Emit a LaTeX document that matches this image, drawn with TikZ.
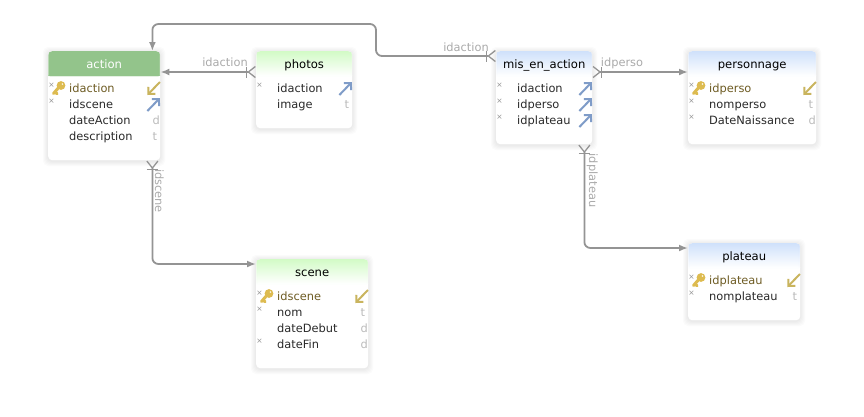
\documentclass[tikz,border=0pt]{standalone}
\usepackage{fontspec}
\setmainfont{DejaVu Sans}
\usetikzlibrary{arrows.meta,calc}

\definecolor{linkgray}{HTML}{949494}
\definecolor{labelgray}{HTML}{AAAAAA}
\definecolor{typegray}{HTML}{BBBBBB}
\definecolor{fieldtext}{HTML}{2A2A2A}
\definecolor{keytext}{HTML}{6E5C24}
\definecolor{keygold}{HTML}{DDBB50}
\definecolor{fkgold}{HTML}{C9B45E}
\definecolor{fkblue}{HTML}{7F9CC8}
\definecolor{greensolid}{HTML}{93C48B}
\definecolor{greenhead}{HTML}{D2FBC6}
\definecolor{bluehead}{HTML}{CFE1FB}

\tikzset{
	fieldlabel/.style={inner sep=0pt, anchor=base west, text=fieldtext, font=\fontsize{11.4}{14}\selectfont},
	typelabel/.style={inner sep=0pt, anchor=base west, text=typegray, font=\fontsize{11.4}{14}\selectfont},
	nullmark/.style={inner sep=0pt, text=linkgray, font=\fontsize{7.5}{8}\selectfont},
	linklabel/.style={inner sep=0pt, anchor=base, text=labelgray, font=\fontsize{11.4}{14}\selectfont},
	fklink/.style={draw=linkgray, line width=1.8pt, rounded corners=6pt,
		{Straight Barb[reversed,length=7pt,width=11pt,line width=1.3pt]Bar[width=11pt,line width=1.3pt,sep=0pt]}-{Latex[length=9pt,width=7pt]}},
	fkicon/.style={line width=2pt, -{Straight Barb[length=5pt,width=10pt,line width=2pt]}}
}

% tableau: nom, x, y, largeur, hauteur, titre, couleurs de l'entete, couleur du titre
\newcommand{\dbtable}[9]{
	\foreach \s in {5,4,3,2,1}
		\fill[black, opacity=0.014, rounded corners=5pt] (#2-\s,#3-\s+1) rectangle (#2+#4+\s,#3+#5+\s+1);
	\node[anchor=north west, fill=white, inner sep=0pt, rounded corners=4pt, minimum width=#4pt, minimum height=#5pt,
		path picture={
			\foreach \k in {0,...,24} {
				\pgfmathtruncatemacro{\mixval}{100-4*\k}
				\fill[#7!\mixval!#8] ($(path picture bounding box.north west)+(-2,{\k==0 ? -2 : \k})$) rectangle ++(#4+4,{\k==0 ? 4 : (\k<24 ? 2 : 1)});
			}
		}]
		(#1) at (#2,#3) {};
	\node[inner sep=0pt, anchor=base, text=#9, font=\fontsize{11.6}{14}\selectfont] (#1 title) at ($(#1.north)+(0,17.5)$) {#6};
}
% ligne de champ: tableau, rang, texte, type
\newcommand{\dbfield}[4]{
	\node[fieldlabel] (#1 f#2) at ($(#1.north west)+(21,{41.5+16*#2})$) {#3};
	\node[typelabel] (#1 t#2) at ($(#1.north east)+(-8,{41.5+16*#2})$) {#4};
}
\newcommand{\dbnull}[2]{
	\node[nullmark] (#1 n#2) at ($(#1.north west)+(3.5,{34.7+16*#2})$) {×};
}
% cle primaire
\newcommand{\pkicon}[1]{
	\begin{scope}[shift={($(#1.north west)+(0,37)$)}]
		\draw[keygold, line width=3pt, line cap=round] (12,-2) -- (5.5,5.5) (7,3.8) -- (9,5.8);
		\fill[keygold, even odd rule] (13,-2.5) circle (4.4) (14.4,-4) circle (1.1);
	\end{scope}
	\draw[fkicon, fkgold] ($(#1.north east)+(-0.5,31)$) -- ($(#1.north east)+(-13,44)$);
}
% cle etrangere
\newcommand{\fkicon}[2]{
	\draw[fkicon, fkblue] ($(#1.north east)+(-13,{44+16*#2})$) -- ($(#1.north east)+(-0.5,{31+16*#2})$);
}

\begin{document}
\begin{tikzpicture}[x=1pt, y=-1pt]
	\useasboundingbox (0,0) rectangle (864,416);

% tableaux
	\dbtable{action}{48}{51}{112}{109}{action}{greensolid}{greensolid}{white}
	\dbtable{photos}{256}{51}{96}{77}{photos}{greenhead}{white}{black}
	\dbtable{mise}{496}{51}{96}{93}{mis\_en\_action}{bluehead}{white}{black}
	\dbtable{personnage}{688}{51}{128}{93}{personnage}{bluehead}{white}{black}
	\dbtable{scene}{256}{259}{112}{109}{scene}{greenhead}{white}{black}
	\dbtable{plateau}{688}{243}{112}{77}{plateau}{bluehead}{white}{black}

% champs
	\foreach \r/\txt/\typ in {1/idscene/, 2/dateAction/d, 3/description/t}
		{\dbfield{action}{\r}{\txt}{\typ}}
	\foreach \r/\txt/\typ in {0/idaction/, 1/image/t}
		{\dbfield{photos}{\r}{\txt}{\typ}}
	\foreach \r/\txt in {0/idaction, 1/idperso, 2/idplateau}
		{\dbfield{mise}{\r}{\txt}{}}
	\foreach \r/\txt/\typ in {1/nomperso/t, 2/DateNaissance/d}
		{\dbfield{personnage}{\r}{\txt}{\typ}}
	\foreach \r/\txt/\typ in {1/nom/t, 2/dateDebut/d, 3/dateFin/d}
		{\dbfield{scene}{\r}{\txt}{\typ}}
	\dbfield{plateau}{1}{nomplateau}{t}

	\node[fieldlabel, text=keytext] (action k) at ($(action.north west)+(21,41.5)$) {idaction};
	\node[fieldlabel, text=keytext] (personnage k) at ($(personnage.north west)+(21,41.5)$) {idperso};
	\node[fieldlabel, text=keytext] (scene k) at ($(scene.north west)+(21,41.5)$) {idscene};
	\node[fieldlabel, text=keytext] (plateau k) at ($(plateau.north west)+(21,41.5)$) {idplateau};

% marques
	\foreach \t/\r in {action/1, photos/0, mise/0, mise/1, mise/2, personnage/1, personnage/2, scene/1, scene/3, plateau/1}
		{\dbnull{\t}{\r}}
	\foreach \t in {action, personnage, scene, plateau}
		{\pkicon{\t}\dbnull{\t}{0}}
	\foreach \t/\r in {action/1, photos/0, mise/0, mise/1, mise/2}
		{\fkicon{\t}{\r}}

% liens
	\coordinate (photos out) at ($(photos.north west)+(0,21)$);
	\coordinate (action in) at ($(action.north east)+(0,21)$);
	\coordinate (mise out) at ($(mise.north west)+(0,5)$);
	\coordinate (bend top) at (376,24);
	\coordinate (action top) at ($(action.north east)+(-8,0)$);
	\coordinate (action out) at ($(action.south east)+(-8,0)$);
	\coordinate (scene in) at ($(scene.north west)+(0,5)$);
	\coordinate (mise east) at ($(mise.north east)+(0,21)$);
	\coordinate (personnage in) at ($(personnage.north west)+(0,21)$);
	\coordinate (mise south) at ($(mise.south east)+(-8,0)$);
	\coordinate (plateau in) at ($(plateau.north west)+(0,5)$);

	\draw[fklink] (photos out) -- (action in);
	\draw[fklink] (mise out) -| (bend top) -| (action top);
	\draw[fklink] (action out) |- (scene in);
	\draw[fklink] (mise east) -- (personnage in);
	\draw[fklink] (mise south) |- (plateau in);

	\node[linklabel] (label photos) at (225,66.5) {idaction};
	\node[linklabel] (label mise) at (466,51.5) {idaction};
	\node[linklabel] (label perso) at (622,66.5) {idperso};
	\node[linklabel, rotate=-90] (label scene) at (155,191) {idscene};
	\node[linklabel, rotate=-90] (label plateau) at (589,180.5) {idplateau};
\end{tikzpicture}
\end{document}
